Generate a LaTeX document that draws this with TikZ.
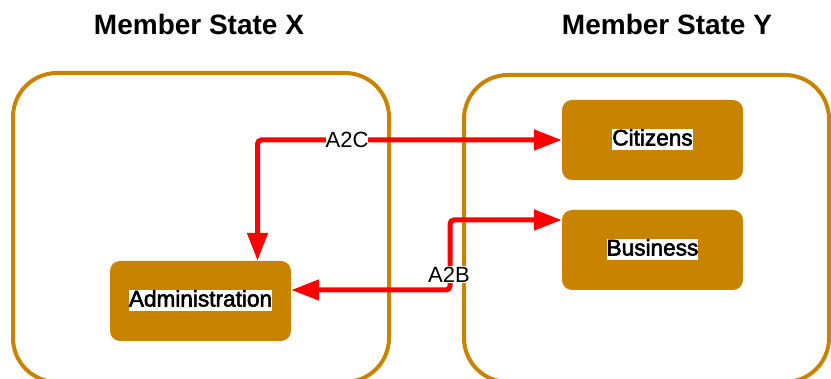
\documentclass[tikz,border=0pt]{standalone}
\usepackage{fontspec}
\setmainfont{Liberation Sans}
\newfontfamily\heavyfont[FakeBold=2.5]{Liberation Sans}
\usetikzlibrary{arrows.meta}
\definecolor{amber}{RGB}{200,132,0}
\definecolor{linkred}{RGB}{255,0,0}

\begin{document}
\begin{tikzpicture}[x=1pt,y=-1pt,
  region/.style={draw=amber, line width=4pt, rounded corners=44pt},
  unit/.style={fill=amber, rounded corners=10pt, minimum width=181pt, minimum height=80pt, inner sep=0pt},
  unitlabel/.style={fill=white, inner sep=0pt, font=\heavyfont\fontsize{22.6}{22.6}\selectfont, text height=16pt, text depth=5pt},
  title/.style={font=\bfseries\fontsize{28}{28}\selectfont},
  flow/.style={draw=linkred, line width=5pt, rounded corners=4pt,
    {Triangle[length=28pt,width=20pt]}-{Triangle[length=28pt,width=20pt]}},
  flowlabel/.style={fill=white, inner sep=0pt, font=\fontsize{22}{22}\selectfont, text height=16pt, text depth=1pt}]

\useasboundingbox (0,0) rectangle (831,379);

% the two member-state regions
\draw[region] (13,73) rectangle (389,382);
\draw[region] (464,75) rectangle (829,382);

\node[title] (titleX) at (199,24) {Member State X};
\node[title] (titleY) at (667,24) {Member State Y};

% organisational units
\node[unit] (admin) at (200.5,301) {};
\node[unitlabel] (admintext) at (admin) {Administration};
\node[unit] (citizens) at (652.5,140) {};
\node[unitlabel] (citizenstext) at (citizens) {Citizens};
\node[unit] (business) at (652.5,250) {};
\node[unitlabel] (businesstext) at (business) {Business};

% cross-border flows
\draw[flow] ([xshift=57pt]admin.north) |- (citizens.west);
\node[flowlabel] (a2c) at (347,140) {A2C};

\coordinate (a2bbend) at (450,220);
\draw[flow] ([yshift=11pt]admin.east) -| (a2bbend) -- ([yshift=30pt]business.west);
\node[flowlabel] (a2b) at (449,275) {A2B};
\end{tikzpicture}
\end{document}
